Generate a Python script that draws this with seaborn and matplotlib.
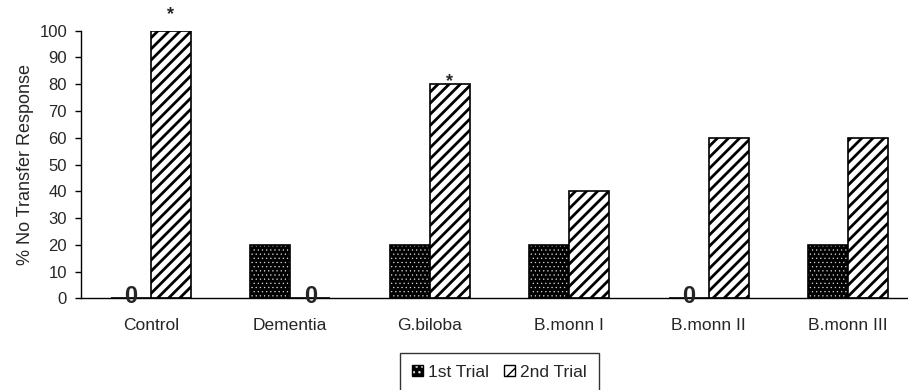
import pandas as pd
import numpy as np
import seaborn as sns
import matplotlib.pyplot as plt
from matplotlib.patches import Patch
from matplotlib.ticker import FixedLocator, MultipleLocator

# Valeurs
groups = ["Control", "Dementia", "G.biloba", "B.monn I", "B.monn II", "B.monn III"]
trials = ["1st Trial", "2nd Trial"]
trial1 = [0, 20, 20, 20, 0, 20]
trial2 = [100, 0, 80, 40, 60, 60]
star_groups = ["Control", "G.biloba"]
star_y = [106, 81]

sns.set_style("white")
plt.rcParams["font.family"] = ["Liberation Sans", "DejaVu Sans"]


def style_hatch(p, hatch, color, lw):
    p.set_hatch(hatch)
    p._hatch_color = color
    if hasattr(p, "set_hatch_linewidth"):
        p.set_hatch_linewidth(lw)
    else:
        p._hatch_linewidth = lw


df = pd.DataFrame({
    "group": groups * 2,
    "trial": [trials[0]] * len(groups) + [trials[1]] * len(groups),
    "value": trial1 + trial2,
})

fig = plt.figure(figsize=(9.08, 3.9), dpi=100)
ax = fig.add_axes([0.0892, 0.2351, 0.9218, 0.6862])

sns.barplot(
    data=df, x="group", y="value", hue="trial", order=groups,
    hue_order=trials, palette=["black", "white"], width=0.574, gap=0,
    edgecolor="black", linewidth=1.2, legend=False, ax=ax,
)

# 1er essai : fond noir a points blancs
for p in ax.containers[0]:
    p.set_facecolor("black")
    p.set_edgecolor("black")
    style_hatch(p, "....", (0.85, 0.85, 0.85, 1), 0.4)
# 2e essai : hachures obliques
for p in ax.containers[1]:
    p.set_facecolor("white")
    p.set_edgecolor("black")
    style_hatch(p, "///", (0, 0, 0, 1), 2.0)

# "0" sur les barres nulles
for cont, vals in zip(ax.containers, [trial1, trial2]):
    for p, v in zip(cont, vals):
        if v == 0:
            ax.text(p.get_x() + p.get_width() / 2, 0.8, "0", ha="center",
                    va="center", fontsize=17, fontweight="bold", zorder=5)

# Etoiles de significativite
for g, y in zip(star_groups, star_y):
    p = ax.containers[1][groups.index(g)]
    ax.text(p.get_x() + p.get_width() / 2, y, "*", ha="center", va="center",
            fontsize=13, fontweight="bold", clip_on=False)

ax.set_xlim(-0.5, len(groups) - 0.5)
ax.set_ylim(0, 100)
ax.yaxis.set_major_locator(MultipleLocator(10))
ax.xaxis.set_minor_locator(FixedLocator(np.arange(-0.5, len(groups), 1)))
ax.tick_params(axis="x", which="major", length=0, pad=14, labelsize=12.5)
ax.tick_params(axis="x", which="minor", length=5, width=1, color="black")
ax.tick_params(axis="y", length=4, width=1, pad=6, labelsize=12, left=True,
               color="black")

sns.despine(ax=ax)
for s in ["left", "bottom"]:
    ax.spines[s].set_color("black")
    ax.spines[s].set_linewidth(1)

ax.set_xlabel("")
ax.set_ylabel("% No Transfer Response", fontsize=13, labelpad=4)

# Legende
h1 = Patch(facecolor="black", edgecolor="black", linewidth=1)
style_hatch(h1, "...", (0.85, 0.85, 0.85, 1), 0.5)
h2 = Patch(facecolor="white", edgecolor="black", linewidth=1)
style_hatch(h2, "//", (0, 0, 0, 1), 3.0)
leg = fig.legend(
    [h1, h2], trials, loc="upper center", bbox_to_anchor=(0.55, 0.095),
    ncol=2, fontsize=12.5, frameon=True, fancybox=False, handlelength=0.6,
    handleheight=0.6, handletextpad=0.3, columnspacing=0.9, borderpad=0.7,
    borderaxespad=0,
)
leg.get_frame().set_edgecolor("black")
leg.get_frame().set_linewidth(1)

fig.savefig("out.png", dpi=100)
